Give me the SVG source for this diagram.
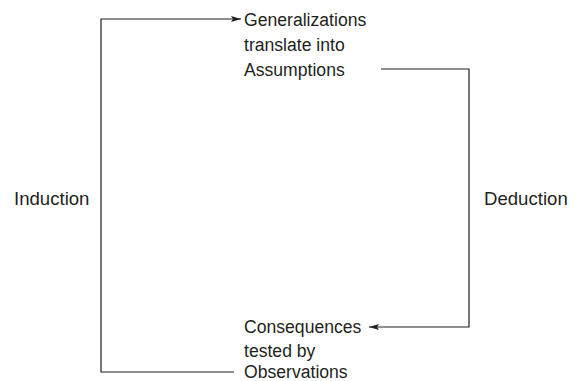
<svg xmlns="http://www.w3.org/2000/svg" width="584" height="381" viewBox="0 0 584 381">
<style>
text{font-family:"Liberation Sans",Arial,sans-serif;font-size:17.6px;fill:#231f20}
.s{font-size:18.6px}
.c{fill:none;stroke:#231f20;stroke-width:1.2}
</style>
<defs>
<marker id="a" viewBox="0 0 10 6" refX="10" refY="3" markerWidth="10" markerHeight="6" markerUnits="userSpaceOnUse" orient="auto">
<path d="M0,0L10,3L0,6L2,3z" fill="#231f20"/>
</marker>
</defs>
<rect width="584" height="381" fill="#fff"/>
<g id="connectors">
<path class="c" d="M234,372H101V19H241" marker-end="url(#a)"/>
<path class="c" d="M381,69H469V327H369" marker-end="url(#a)"/>
</g>
<g id="top">
<text x="244" y="25.5">Generalizations</text>
<text x="244" y="51">translate into</text>
<text x="244" y="76">Assumptions</text>
</g>
<g id="bottom">
<text x="244" y="333">Consequences</text>
<text x="244" y="356.5">tested by</text>
<text x="244" y="377.5">Observations</text>
</g>
<g id="induction"><text class="s" x="14" y="205">Induction</text></g>
<g id="deduction"><text class="s" x="484" y="205">Deduction</text></g>
</svg>
